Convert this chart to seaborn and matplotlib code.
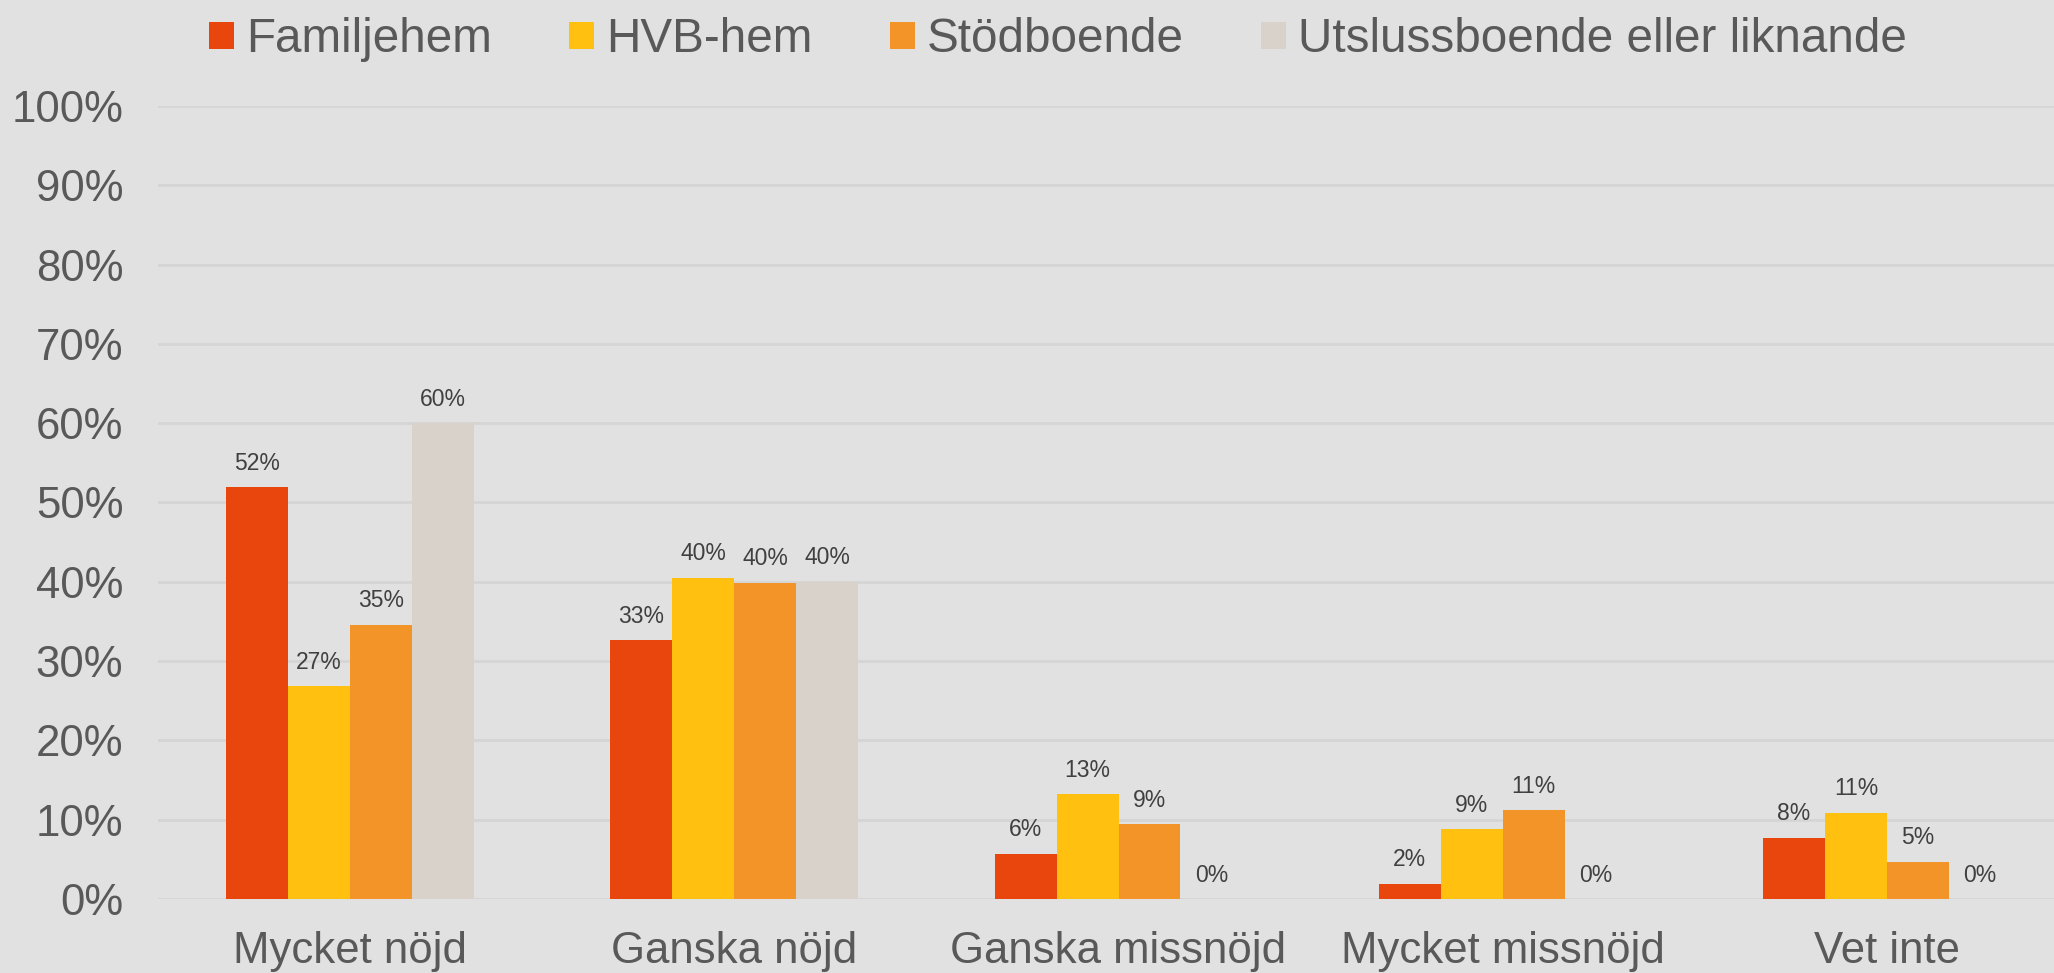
import matplotlib
matplotlib.use("Agg")
import matplotlib.pyplot as plt
import seaborn as sns
import pandas as pd
from matplotlib.ticker import PercentFormatter

# data (share of answers)
categories = ["Mycket nöjd", "Ganska nöjd", "Ganska missnöjd", "Mycket missnöjd", "Vet inte"]
series = ["Familjehem", "HVB-hem", "Stödboende", "Utslussboende eller liknande"]
familjehem = [0.519, 0.326, 0.057, 0.019, 0.077]
hvb_hem = [0.268, 0.405, 0.132, 0.088, 0.109]
stodboende = [0.346, 0.399, 0.094, 0.112, 0.047]
utsluss = [0.60, 0.40, 0.0, 0.0, 0.0]
colors = ["#E8460C", "#FFC00F", "#F29427", "#D9D2CB"]

rows = []
for name, vals in zip(series, [familjehem, hvb_hem, stodboende, utsluss]):
    for cat, v in zip(categories, vals):
        rows.append({"kategori": cat, "boende": name, "andel": v})
df = pd.DataFrame(rows)

sns.set_theme(style="white")
plt.rcParams['font.family'] = ['Liberation Sans', 'DejaVu Sans']
bg = "#E1E1E1"
txt = "#595959"

fig = plt.figure(figsize=(20.54, 9.73), dpi=100, facecolor=bg)
# axes run a bit past the right edge, like the original
ax = fig.add_axes([158/2054, 74/973, 1921/2054, 793/973])
ax.set_facecolor(bg)

sns.barplot(data=df, x="kategori", y="andel", hue="boende", order=categories,
            hue_order=series, palette=colors, width=0.645, saturation=1,
            errorbar=None, linewidth=0, ax=ax, zorder=3)

ax.set_ylim(0, 1)
ax.set_xlim(-0.5, 4.5)
ax.yaxis.set_major_locator(plt.MultipleLocator(0.1))
ax.yaxis.set_major_formatter(PercentFormatter(1.0, decimals=0))
ax.grid(axis="y", color="#D5D5D5", linewidth=2, zorder=0)
ax.set_axisbelow(True)
for s in ax.spines.values():
    s.set_visible(False)
ax.set_xlabel("")
ax.set_ylabel("")
ax.tick_params(axis="y", length=0, labelsize=31.5, labelcolor=txt, pad=25)
ax.tick_params(axis="x", length=0, labelsize=31.5, labelcolor=txt, pad=23)

# value labels on top of bars
for cont in ax.containers:
    ax.bar_label(cont, labels=[f"{round(v*100):.0f}%" for v in cont.datavalues],
                 padding=9, fontsize=16.5, color="#404040")

handles, labels = ax.get_legend_handles_labels()
ax.get_legend().remove()
fig.legend(handles, labels, loc="center", bbox_to_anchor=(1058/2054, 0.959),
           ncol=4, frameon=False, fontsize=34.3, labelcolor=txt,
           handlelength=0.52, handleheight=0.5, handletextpad=0.26, columnspacing=1.62)

fig.savefig("out.png", dpi=100, facecolor=bg)
